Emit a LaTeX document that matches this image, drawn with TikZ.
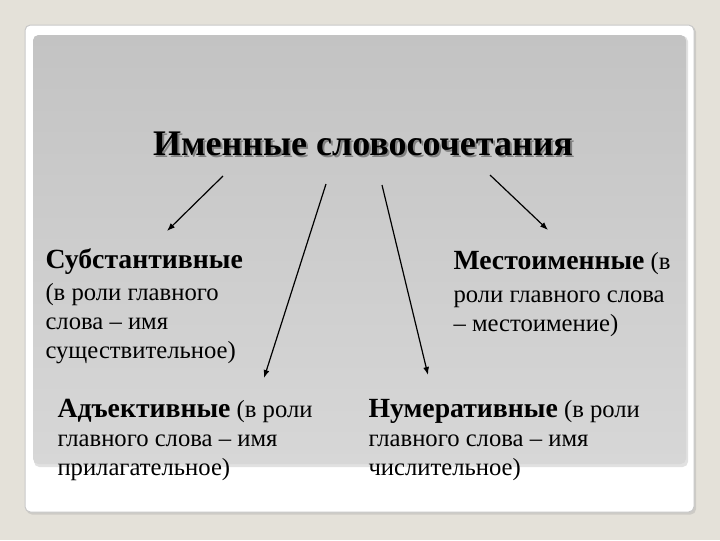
\documentclass[tikz,border=0pt]{standalone}
\usepackage{fontspec}
\setmainfont{Liberation Serif}
\usetikzlibrary{arrows.meta}

\tikzset{every picture/.style={line width=0.75pt}}
\newcommand{\headword}[1]{{\fontsize{20.8}{21.5}\selectfont\bfseries #1}}
\tikzset{
  blocktext/.style={anchor=base west, inner sep=0pt, align=left, font=\fontsize{18.5}{21.5}\selectfont},
  thinarrow/.style={line width=0.9pt, -{Latex[length=6pt,width=4.5pt]}}
}

\begin{document}
\begin{tikzpicture}[x=0.75pt,y=0.75pt,yscale=-1,xscale=1]
\useasboundingbox (0,0) rectangle (720,540);

%Shape: Rectangle [id:background] 
\fill [color={rgb, 255:red, 228; green, 225; blue, 217 }] (0,0) rectangle (720,540);
%Shape: Rectangle [id:cardshadow] 
\fill [color={rgb, 255:red, 205; green, 203; blue, 198 }, rounded corners=4] (26.5,26.5) rectangle (696,514.5);
%Shape: Rectangle [id:card] 
\draw [color={rgb, 255:red, 200; green, 200; blue, 200 }, fill=white, rounded corners=4] (25,25) rectangle (694,512);
%Shape: Rectangle [id:panelshadow] 
\fill [color={rgb, 255:red, 225; green, 225; blue, 225 }, rounded corners=4] (34,36) rectangle (688,467);
%Shape: Rectangle [id:panel] 
\shade [top color={rgb, 255:red, 195; green, 195; blue, 195 }, bottom color={rgb, 255:red, 215; green, 215; blue, 215 }, rounded corners=4] (33,35) rectangle (686,464);

% Text Node
\node [color={rgb, 255:red, 130; green, 130; blue, 130 }, anchor=base, inner sep=0pt, font=\fontsize{27}{32}\selectfont\bfseries] at (365,157) {Именные словосочетания};
\node (title) [anchor=base, inner sep=0pt, font=\fontsize{27}{32}\selectfont\bfseries] at (363,155) {Именные словосочетания};

% Text Node (anchored at the baseline of the last line)
\node (subst) [blocktext] at (45,358) {\headword{Субстантивные}\\[3pt](в роли главного\\слова – имя\\существительное)};
% Text Node
\node (mest) [blocktext] at (453,331) {\headword{Местоименные} (в\\[3pt]роли главного слова\\– местоимение)};
% Text Node
\node (adj) [blocktext] at (57,475) {\headword{Адъективные} (в роли\\главного слова – имя\\прилагательное)};
% Text Node
\node (num) [blocktext] at (368,475) {\headword{Нумеративные} (в роли\\главного слова – имя\\числительное)};

%Straight Lines [id:arrowsubst] 
\coordinate (subst-from) at (223,176);
\coordinate (subst-to) at (167,231);
\draw [thinarrow] (subst-from) -- (subst-to);
%Straight Lines [id:arrowadj] 
\coordinate (adj-from) at (326,184);
\coordinate (adj-to) at (264,378);
\draw [thinarrow] (adj-from) -- (adj-to);
%Straight Lines [id:arrownum] 
\coordinate (num-from) at (382,185);
\coordinate (num-to) at (428,375);
\draw [thinarrow] (num-from) -- (num-to);
%Straight Lines [id:arrowmest] 
\coordinate (mest-from) at (490,175);
\coordinate (mest-to) at (548,230);
\draw [thinarrow] (mest-from) -- (mest-to);

\end{tikzpicture}
\end{document}
